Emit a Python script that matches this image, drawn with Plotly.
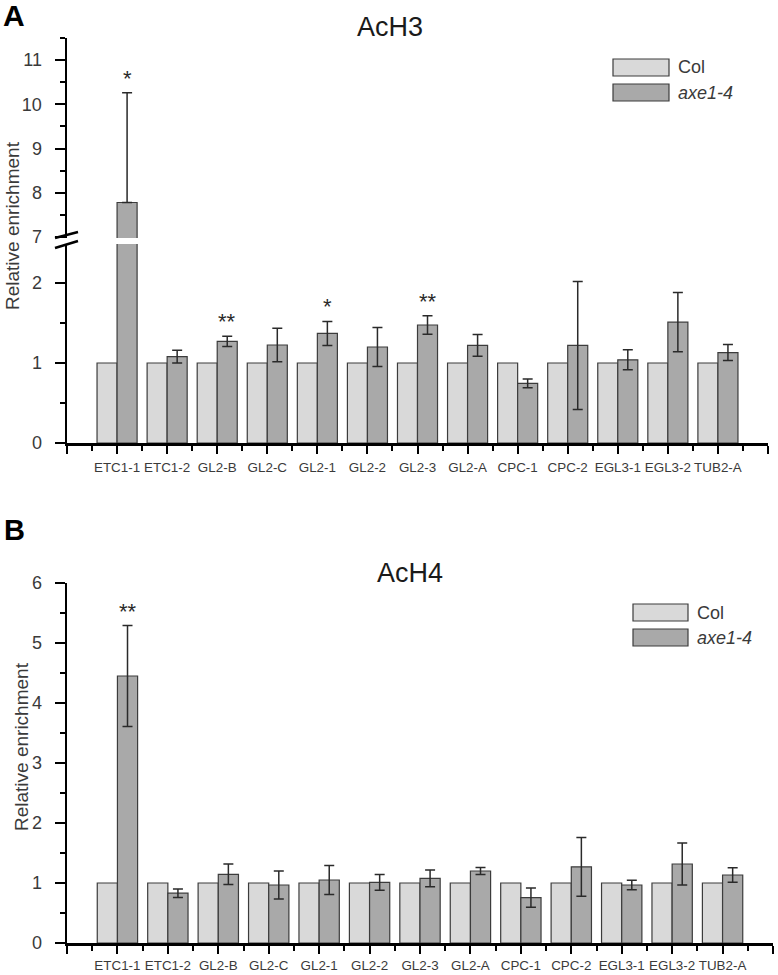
import plotly.graph_objects as go

categories = ["ETC1-1", "ETC1-2", "GL2-B", "GL2-C", "GL2-1", "GL2-2", "GL2-3",
              "GL2-A", "CPC-1", "CPC-2", "EGL3-1", "EGL3-2", "TUB2-A"]
series_names = ["Col", "axe1-4"]

# Panel A: AcH3
col_A = [1, 1, 1, 1, 1, 1, 1, 1, 1, 1, 1, 1, 1]
axe_A = [7.78, 1.08, 1.27, 1.225, 1.37, 1.20, 1.475, 1.22, 0.746, 1.22, 1.04, 1.51, 1.13]
axe_A_err_plus = [2.48, 0.08, 0.065, 0.21, 0.15, 0.245, 0.115, 0.135, 0.055, 0.80, 0.125, 0.37, 0.10]
axe_A_err_minus = [0.0, 0.08, 0.065, 0.21, 0.15, 0.245, 0.115, 0.135, 0.055, 0.80, 0.125, 0.37, 0.10]
sig_A = ["*", "", "**", "", "*", "", "**", "", "", "", "", "", ""]

# Panel B: AcH4
col_B = [1, 1, 1, 1, 1, 1, 1, 1, 1, 1, 1, 1, 1]
axe_B = [4.45, 0.83, 1.145, 0.967, 1.05, 1.01, 1.078, 1.20, 0.755, 1.27, 0.967, 1.317, 1.133]
axe_B_err = [0.84, 0.07, 0.17, 0.235, 0.24, 0.13, 0.14, 0.06, 0.16, 0.49, 0.08, 0.35, 0.12]
sig_B = ["**", "", "", "", "", "", "", "", "", "", "", "", ""]

W, H = 778, 975
def px(x):
    return x / W
def py(y):
    return 1 - y / H

COL_C = "#d9d9d9"
AXE_C = "#a9a9a9"
EDGE = "#3c3c3c"
FONT = "Liberation Sans, Arial, sans-serif"
TXT = "#3a3a3a"

idx = list(range(len(categories)))

fig = go.Figure()

def add_bars(yvals, color, offset, xa, ya, err_p=None, err_m=None, name=""):
    kw = {}
    if err_p is not None:
        kw["error_y"] = dict(type="data", symmetric=False, array=err_p,
                             arrayminus=err_m, color="#2a2a2a", thickness=1.5, width=5)
    fig.add_trace(go.Bar(x=idx, y=yvals, width=0.4, offset=offset,
                         marker=dict(color=color, line=dict(color=EDGE, width=1.2)),
                         xaxis=xa, yaxis=ya, showlegend=False, name=name,
                         hoverinfo="skip", **kw))

# Panel A lower and upper parts (broken axis)
for ya in ["y", "y2"]:
    add_bars(col_A, COL_C, -0.4, "x", ya, name=series_names[0])
    add_bars(axe_A, AXE_C, 0.0, "x", ya, axe_A_err_plus, axe_A_err_minus, name=series_names[1])

# Panel B
add_bars(col_B, COL_C, -0.4, "x2", "y3", name=series_names[0])
add_bars(axe_B, AXE_C, 0.0, "x2", "y3", axe_B_err, axe_B_err, name=series_names[1])

tickvals_x = [-1] + idx + [len(categories)]
ticktext_x = [""] + categories + [""]

xcommon = dict(range=[-1, len(categories)], tickmode="array", tickvals=tickvals_x,
               ticktext=ticktext_x, showline=True, linecolor="black", linewidth=2.5,
               ticks="outside", ticklen=8, tickwidth=2, tickcolor="black",
               showgrid=False, zeroline=False, fixedrange=True,
               automargin=False,
               tickfont=dict(family=FONT, size=13.4, color=TXT),
               minor=dict(tickmode="linear", tick0=-0.5, dtick=1, ticks="outside",
                          ticklen=5, tickwidth=2, tickcolor="black", showgrid=False))

ycommon = dict(showline=True, linecolor="black", linewidth=2.5, ticks="outside",
               ticklen=10, tickwidth=2, tickcolor="black", showgrid=False,
               zeroline=False, tickfont=dict(family=FONT, size=18, color=TXT),
               ticklabelstandoff=9, automargin=False, fixedrange=True)

fig.update_layout(
    width=W, height=H, margin=dict(l=0, r=0, t=0, b=0, autoexpand=False),
    paper_bgcolor="white", plot_bgcolor="white", showlegend=False,
    xaxis=dict(domain=[px(67), px(768)], anchor="y", ticklabelstandoff=2, **xcommon),
    xaxis2=dict(domain=[px(67), px(773)], anchor="y3", ticklabelstandoff=0, **xcommon),
    yaxis=dict(domain=[py(443), py(244)], range=[0, 2.4875], anchor="x",
               tickmode="array", tickvals=[0, 1, 2],
               minor=dict(tickmode="linear", tick0=0.5, dtick=1, ticks="outside",
                          ticklen=5, tickwidth=2, tickcolor="black"),
               **ycommon),
    yaxis2=dict(domain=[py(238), py(38)], range=[6.977, 11.5], anchor="x",
                tickmode="array", tickvals=[7, 8, 9, 10, 11],
                minor=dict(tickmode="linear", tick0=7.5, dtick=1, ticks="outside",
                           ticklen=5, tickwidth=2, tickcolor="black"),
                **ycommon),
    yaxis3=dict(domain=[py(943), py(583)], range=[0, 6], anchor="x2",
                tickmode="array", tickvals=[0, 1, 2, 3, 4, 5, 6],
                minor=dict(tickmode="linear", tick0=0.5, dtick=1, ticks="outside",
                           ticklen=5, tickwidth=2, tickcolor="black"),
                **ycommon),
)

ann = []
def note(text, x, y, size, color=TXT, angle=0, xanchor="center"):
    ann.append(dict(text=text, x=px(x), y=py(y), xref="paper", yref="paper",
                    xanchor=xanchor, yanchor="middle", showarrow=False, textangle=angle,
                    font=dict(family=FONT, size=size, color=color)))

# Titles and panel letters
note("AcH3", 390, 27, 27, "#1a1a1a")
note("AcH4", 410, 573, 27, "#1a1a1a")
note("<b>A</b>", 14, 16, 30, "black")
note("<b>B</b>", 14, 530, 29, "black")
# y-axis titles
note("Relative enrichment", 12, 226, 19, TXT, -90)
note("Relative enrichment", 21, 747, 19, TXT, -90)

# significance stars
for i, s in enumerate(sig_A):
    if s:
        top = axe_A[i] + axe_A_err_plus[i]
        ann.append(dict(text=s, x=i + 0.2, y=top, xref="x", yref="y2" if top > 3 else "y",
                        xanchor="center", yanchor="bottom", showarrow=False,
                        font=dict(family=FONT, size=22, color="#2a2a2a")))
for i, s in enumerate(sig_B):
    if s:
        top = axe_B[i] + axe_B_err[i]
        ann.append(dict(text=s, x=i + 0.2, y=top, xref="x2", yref="y3",
                        xanchor="center", yanchor="bottom", showarrow=False,
                        font=dict(family=FONT, size=22, color="#2a2a2a")))

shapes = []
# legends
def legend(x0, x1, ys, tx):
    for (y0, y1), color, name, ital in zip(ys, [COL_C, AXE_C], series_names, [False, True]):
        shapes.append(dict(type="rect", xref="paper", yref="paper",
                           x0=px(x0), x1=px(x1), y0=py(y1), y1=py(y0),
                           fillcolor=color, line=dict(color=EDGE, width=1.2)))
        t = f"<i>{name}</i>" if ital else name
        note(t, tx, (y0 + y1) / 2, 18, TXT, 0, "left")

legend(613, 669, [(59, 76), (84, 101)], 676)
legend(633, 688, [(604, 621), (629, 646)], 695)

# axis break marks
for (x0, y0, x1, y1) in [(55, 238, 78, 232), (55, 248, 78, 241)]:
    shapes.append(dict(type="line", xref="paper", yref="paper",
                       x0=px(x0), y0=py(y0), x1=px(x1), y1=py(y1),
                       line=dict(color="black", width=2.5)))

fig.update_layout(annotations=ann, shapes=shapes)
fig.write_html("out.html", config={"displayModeBar": False, "staticPlot": True},
               post_script="document.body.style.margin='0px';"
                           "document.body.style.overflow='hidden';")
